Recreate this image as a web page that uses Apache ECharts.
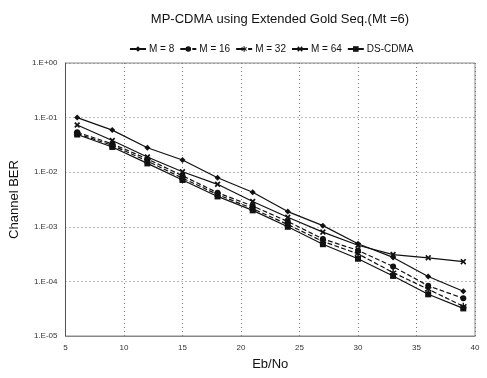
<!DOCTYPE html>
<html><head><meta charset="utf-8">
<script src="https://cdn.jsdelivr.net/npm/echarts@6/dist/echarts.min.js"></script>
<style>html,body{margin:0;padding:0;background:#fff}#c{width:487px;height:378px}</style>
</head><body><div id="c"></div>
<script>
const ebno = [6, 9, 12, 15, 18, 21, 24, 27, 30, 33, 36, 39];
const m8   = [1.0e-1, 5.9e-2, 2.8e-2, 1.67e-2, 7.9e-3, 4.3e-3, 1.9e-3, 1.05e-3, 4.9e-4, 2.75e-4, 1.23e-4, 6.6e-5];
const m16  = [5.4e-2, 3.3e-2, 1.75e-2, 8.6e-3, 4.2e-3, 2.4e-3, 1.25e-3, 6.0e-4, 3.7e-4, 1.87e-4, 8.3e-5, 4.9e-5];
const m32  = [5.1e-2, 3.1e-2, 1.6e-2, 7.8e-3, 3.9e-3, 2.15e-3, 1.1e-3, 5.4e-4, 3.2e-4, 1.45e-4, 7.2e-5, 3.5e-5];
const m64  = [7.3e-2, 3.8e-2, 1.9e-2, 1.02e-2, 6.0e-3, 2.9e-3, 1.5e-3, 8.0e-4, 4.6e-4, 3.1e-4, 2.7e-4, 2.3e-4];
const ds   = [4.9e-2, 2.9e-2, 1.45e-2, 7.2e-3, 3.6e-3, 2.0e-3, 1.0e-3, 4.8e-4, 2.6e-4, 1.26e-4, 5.8e-5, 3.2e-5];
const names = ['M = 8', 'M = 16', 'M = 32', 'M = 64', 'DS-CDMA'];
const xTicks = [5, 10, 15, 20, 25, 30, 35, 40];
const yTickLabels = {'0':'1.E+00','-1':'1.E-01','-2':'1.E-02','-3':'1.E-03','-4':'1.E-04','-5':'1.E-05'};

const xShape = 'path://M0,2L2,0L5,3L8,0L10,2L7,5L10,8L8,10L5,7L2,10L0,8L3,5Z';
const starShape = 'path://M4,0L6,0L6,3.5L9,1.5L10,3.3L7,5L10,6.7L9,8.5L6,6.5L6,10L4,10L4,6.5L1,8.5L0,6.7L3,5L0,3.3L1,1.5L4,3.5Z';
const styles = [
  {symbol:'diamond', size:6, type:'solid'},
  {symbol:'circle', size:6, type:'dashed'},
  {symbol:starShape, size:7, type:'dashed'},
  {symbol:xShape, size:6, type:'solid'},
  {symbol:'rect', size:6, type:'solid'}
];
const dataSets = [m8, m16, m32, m64, ds];
const series = dataSets.map((d, i) => ({
  name: names[i], type: 'line',
  data: ebno.map((x, j) => [x, d[j]]),
  symbol: styles[i].symbol, symbolSize: styles[i].size,
  lineStyle: {color:'#111', width:1.2, type: styles[i].type},
  itemStyle: {color:'#111'}
}));

const chart = echarts.init(document.getElementById('c'), null, {renderer:'canvas'});
chart.setOption({
  animation: false,
  backgroundColor: '#fff',
  title: {text: 'MP-CDMA using Extended Gold Seq.(Mt =6)', left: 275, top: 8, textAlign: 'center',
    textStyle: {fontFamily: 'Liberation Sans', fontSize: 13, fontWeight: 'normal', color: '#111'}},
  legend: {top: 39, left: 124, itemGap: 5, itemWidth: 16, itemHeight: 7,
    textStyle: {fontFamily: 'Liberation Sans', fontSize: 10, color: '#111', padding: [0, 0, 0, -2]},
    data: names.map(n => ({name: n}))},
  grid: {left: 63, right: 12, top: 63, bottom: 42, show: true, borderColor: '#888', borderWidth: 1},
  xAxis: {type: 'value', min: 5, max: 40, interval: 5,
    name: 'Eb/No', nameLocation: 'middle', nameGap: 22,
    nameTextStyle: {fontFamily: 'Liberation Sans', fontSize: 13, color: '#111'},
    axisLine: {show: true, lineStyle: {color: '#888'}}, axisTick: {show: false},
    axisLabel: {fontFamily: 'Liberation Sans', fontSize: 8, color: '#333', margin: 8,
      formatter: v => xTicks.includes(v) ? String(v) : ''},
    splitLine: {show: true, lineStyle: {color: '#777', type: [1, 3], width: 1}}},
  yAxis: {type: 'log', logBase: 10, min: 1e-5, max: 1,
    name: 'Channel BER', nameLocation: 'middle', nameGap: 37,
    nameTextStyle: {fontFamily: 'Liberation Sans', fontSize: 13, color: '#111'},
    axisLine: {show: true, lineStyle: {color: '#555'}}, axisTick: {show: false},
    axisLabel: {fontFamily: 'Liberation Sans', fontSize: 8, color: '#333', margin: 8,
      formatter: v => yTickLabels[String(Math.round(Math.log10(v)))] || ''},
    splitLine: {show: true, lineStyle: {color: '#777', type: [1, 3], width: 1}},
    minorTick: {show: false},
    minorSplitLine: {show: false}},
  series: series
});
</script></body></html>
